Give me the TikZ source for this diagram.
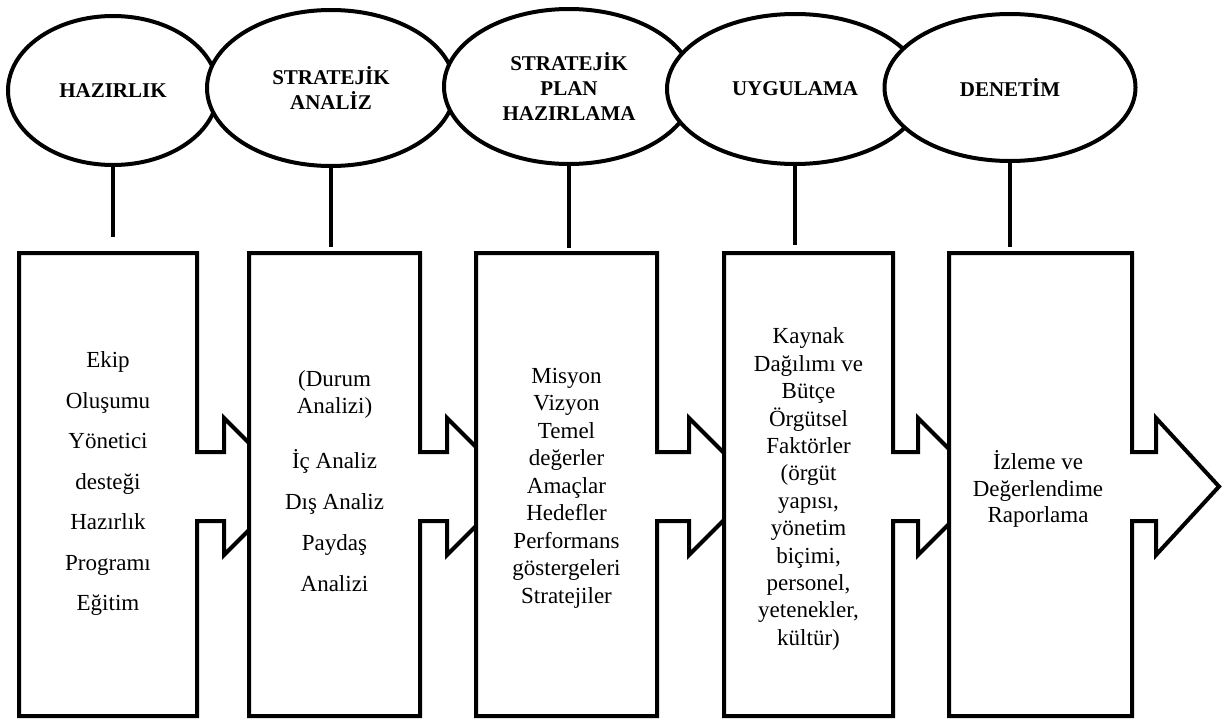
\documentclass[tikz,border=0pt]{standalone}
\usepackage{fontspec}
\setmainfont{Liberation Serif}
\usetikzlibrary{shapes.geometric}
\begin{document}
\begin{tikzpicture}[x=1pt,y=-1pt,
  stage/.style={ellipse, draw=black, line width=4pt, fill=white, inner sep=0pt,
    align=center, font=\fontsize{21}{25}\selectfont\bfseries},
  outline/.style={draw=black, line width=4pt, fill=white, line join=miter},
  link/.style={draw=black, line width=4pt},
  area/.style={rectangle, inner sep=0pt, minimum height=463pt},
  boxtext/.style={align=center, inner sep=0pt, font=\fontsize{23}{#1}\selectfont}]

\useasboundingbox (0,0) rectangle (1222,720);
\fill[white] (0,0) rectangle (1222,720);

% step boxes, each with the block arrow leaving its right side
\draw[outline] (19,253) -- (197,253) -- (197,452) -- (224,452) -- (224,418)
  -- (292.5,486.5) -- (224,555) -- (224,521) -- (197,521) -- (197,716) -- (19,716) -- cycle;
\draw[outline] (249,253) -- (420,253) -- (420,452) -- (447,452) -- (447,418)
  -- (515.5,486.5) -- (447,555) -- (447,521) -- (420,521) -- (420,716) -- (249,716) -- cycle;
\draw[outline] (476,253) -- (657,253) -- (657,452) -- (689,452) -- (689,418)
  -- (757.5,486.5) -- (689,555) -- (689,521) -- (657,521) -- (657,716) -- (476,716) -- cycle;
\draw[outline] (724,253) -- (893,253) -- (893,452) -- (918,452) -- (918,418)
  -- (986.5,486.5) -- (918,555) -- (918,521) -- (893,521) -- (893,716) -- (724,716) -- cycle;
\draw[outline] (949,253) -- (1132,253) -- (1132,452) -- (1156,452) -- (1156,418)
  -- (1219,486.5) -- (1156,555) -- (1156,521) -- (1132,521) -- (1132,716) -- (949,716) -- cycle;

% box areas used as connector targets
\node[area, minimum width=178pt] (b1) at (108,484.5) {};
\node[area, minimum width=171pt] (b2) at (334.5,484.5) {};
\node[area, minimum width=181pt] (b3) at (566.5,484.5) {};
\node[area, minimum width=169pt] (b4) at (808.5,484.5) {};
\node[area, minimum width=183pt] (b5) at (1040.5,484.5) {};

% box contents
\node[boxtext=40.5] (t1) at (108,483.5)
  {Ekip\\Oluşumu\\Yönetici\\desteği\\Hazırlık\\Programı\\Eğitim};
\node[boxtext=41] (t2) at (334.5,481)
  {(Durum\\[-14pt]Analizi)\\[14pt]İç Analiz\\Dış Analiz\\Paydaş\\Analizi};
\node[boxtext=27.5] (t3) at (566.5,488)
  {Misyon\\Vizyon\\Temel\\değerler\\Amaçlar\\Hedefler\\Performans\\göstergeleri\\Stratejiler};
\node[boxtext=27.4] (t4) at (808.5,489)
  {Kaynak\\Dağılımı ve\\Bütçe\\Örgütsel\\Faktörler\\(örgüt\\yapısı,\\yönetim\\biçimi,\\personel,\\yetenekler,\\kültür)};
\node[boxtext=26.5] (t5) at (1038,489)
  {İzleme ve\\Değerlendime\\Raporlama};

% stage ellipses, each one lying over the previous one
\node[stage, minimum width=210pt, minimum height=149pt] (e1) at (113,90.5) {HAZIRLIK};
\node[stage, minimum width=248pt, minimum height=156pt] (e2) at (331,88) {STRATEJİK\\ANALİZ};
\node[stage, minimum width=250pt, minimum height=155pt] (e3) at (569,86.5) {STRATEJİK\\PLAN\\HAZIRLAMA};
\node[stage, minimum width=256pt, minimum height=150pt] (e4) at (795,89) {UYGULAMA};
\node[stage, minimum width=251pt, minimum height=147pt] (e5) at (1010,87.5) {DENETİM};

% connectors from each stage down to its box
\draw[link, shorten >=16pt] (e1.south) -- (e1.south |- b1.north);
\draw[link, shorten >=6pt] (e2.south) -- (e2.south |- b2.north);
\draw[link, shorten >=5pt] (e3.south) -- (e3.south |- b3.north);
\draw[link, shorten >=8pt] (e4.south) -- (e4.south |- b4.north);
\draw[link, shorten >=6pt] (e5.south) -- (e5.south |- b5.north);
\end{tikzpicture}
\end{document}
